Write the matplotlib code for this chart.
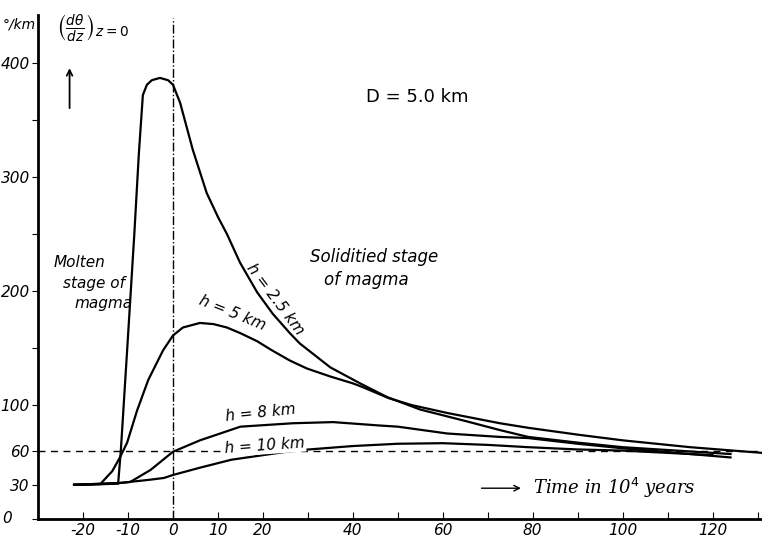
import numpy as np
from matplotlib import pyplot as plt

# curves (time in 10^4 years, gradient in deg/km)
x_h25 = [-22, -16, -12.2, -11.6, -10.2, -8.6, -7.6, -6.7, -5.8, -4.7, -2.9, -1.1, 0, 1.6, 4.4, 7.5,
         10, 12, 14.9, 18.7, 22.2, 26, 28.2, 35, 41.6, 47.6, 55, 65, 72.7, 79, 90, 100, 112, 124]
y_h25 = [30, 30.5, 31, 60, 148, 250, 320, 372, 381, 385, 387, 385, 381, 365, 324, 286,
         265, 250, 225, 199, 180, 163, 154, 133, 119, 107, 96, 86, 78, 72, 67, 63, 60, 57]

x_h5 = [-22, -16.2, -13.5, -11.8, -10.2, -8, -5.5, -2.2, 0, 2.2, 6, 9, 12, 15, 18.7, 22,
        26, 29.8, 35, 40, 42, 48, 53, 61, 72.7, 79, 90, 100, 115, 131]
y_h5 = [30, 30.5, 42, 54, 67, 95, 122, 148, 161, 168, 172, 171, 168, 163, 156, 148,
        139, 132, 125, 119, 116, 106, 100, 93, 84, 80, 74, 69, 63, 58]

x_h8 = [-22, -12, -9.5, -5, 0, 6, 15, 26.7, 35.6, 46, 50, 61, 72.7, 79, 90, 100, 112, 124]
y_h8 = [30, 31.5, 32.5, 43, 59, 69, 81, 84, 85, 82, 81, 75, 72, 71, 66, 62, 58, 54]

x_h10 = [-22, -12, -5, -2, 0, 6, 13, 20, 27, 40, 50, 60, 70, 79, 90, 100, 110, 120]
y_h10 = [30, 31.5, 34.5, 36, 38.6, 45, 52, 56, 60, 64, 66, 66.5, 65, 63, 61, 60, 58, 56]

ref_level = 60
xtick_pos = [-20, -10, 0, 10, 20, 30, 40, 50, 60, 70, 80, 90, 100, 110, 120, 130]
xtick_lab = ['-20', '-10', '0', '10', '20', '', '40', '', '60', '', '80', '', '100', '', '120', '']
ytick_pos = [0, 30, 60, 100, 150, 200, 250, 300, 350, 400]
ytick_lab = ['', '30', '60', '100', '', '200', '', '300', '', '400']

fig = plt.figure(figsize=(7.62, 5.44), dpi=100)
ax = fig.add_axes([0.05, 0.046, 0.95, 0.926])
ax.set_xlim(-30, 131)
ax.set_ylim(0, 442)

for xs, ys in [(x_h25, y_h25), (x_h5, y_h5), (x_h8, y_h8), (x_h10, y_h10)]:
    ax.plot(xs, ys, color='black', lw=1.6)

ax.axhline(ref_level, color='black', lw=1.0, ls=(0, (5, 4)))
ax.plot([0, 0], [0, 440], color='black', lw=1.0, ls='-.')

ax.spines['top'].set_visible(False)
ax.spines['right'].set_visible(False)
ax.spines['left'].set_linewidth(2)
ax.spines['bottom'].set_linewidth(2)

ax.set_xticks(xtick_pos)
ax.set_xticklabels(xtick_lab, style='italic', fontsize=11)
ax.set_yticks(ytick_pos)
ax.set_yticklabels(ytick_lab, style='italic', fontsize=11)
ax.tick_params(axis='x', direction='in', length=5, pad=3)
ax.tick_params(axis='y', direction='out', length=4, pad=2)

ax.text(-37, 0, '0', style='italic', fontsize=11, ha='center', va='center', clip_on=False)

# curve labels
ax.text(22.8, 193, 'h = 2.5 km', rotation=-53, style='italic', fontsize=11,
        ha='center', va='center')
ax.text(13.3, 181, 'h = 5 km', rotation=-22, style='italic', fontsize=11,
        ha='center', va='center')
ax.text(19.5, 93, 'h = 8 km', rotation=6, style='italic', fontsize=11,
        ha='center', va='center')
ax.text(20.5, 64, 'h = 10 km', rotation=4, style='italic', fontsize=11,
        ha='center', va='center',
        bbox=dict(facecolor='white', edgecolor='none', pad=0.5))

ax.text(-26.5, 225, 'Molten', style='italic', fontsize=11, ha='left', va='center')
ax.text(-24.5, 207, 'stage of', style='italic', fontsize=11, ha='left', va='center')
ax.text(-22, 189, 'magma', style='italic', fontsize=11, ha='left', va='center')

ax.text(30.5, 230, 'Soliditied stage', style='italic', fontsize=12, ha='left', va='center')
ax.text(33.5, 210, 'of magma', style='italic', fontsize=12, ha='left', va='center')

ax.text(43, 370, 'D = 5.0 km', fontsize=13, ha='left', va='center')

ax.annotate('', xy=(-23, 398), xytext=(-23, 358),
            arrowprops=dict(arrowstyle='->', color='black', lw=1.3))
ax.text(-26, 430, r'$\left(\frac{d\theta}{dz}\right)_{z=0}$', fontsize=14,
        ha='left', va='center', clip_on=False)
fig.text(0.025, 0.955, '°/km', style='italic', fontsize=10, ha='center', va='center')

ax.annotate('', xy=(78, 27), xytext=(68, 27),
            arrowprops=dict(arrowstyle='->', color='black', lw=1.0))
ax.text(80, 27, 'Time in 10$^4$ years', family='DejaVu Serif', style='italic',
        fontsize=13, ha='left', va='center')

plt.savefig('out.png', dpi=100)
